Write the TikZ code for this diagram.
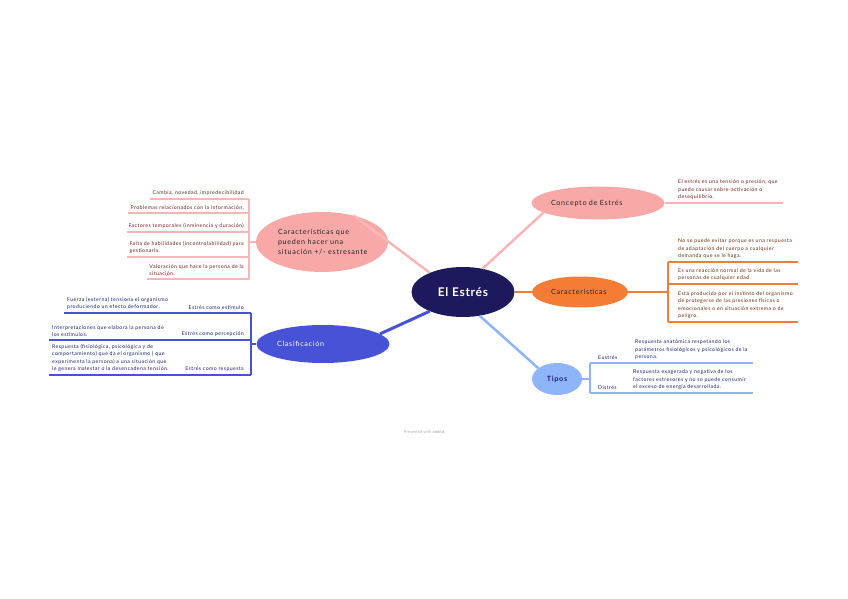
\documentclass[tikz,border=0pt]{standalone}
\usepackage{fontspec}
\setmainfont{Lato}
\usetikzlibrary{shapes.geometric}
\definecolor{knavy}{RGB}{28,26,92}
\definecolor{kpinkfill}{RGB}{249,168,168}
\definecolor{kpinkline}{RGB}{250,182,182}
\definecolor{korangefill}{RGB}{245,124,52}
\definecolor{kbluefill}{RGB}{72,82,214}
\definecolor{klightfill}{RGB}{142,180,250}
\definecolor{kpinktext}{RGB}{110,32,32}
\definecolor{korangetext}{RGB}{105,45,15}
\definecolor{kbluetext}{RGB}{30,32,110}
\newcommand{\topicfont}{\fontsize{7.2}{10}\selectfont\addfontfeature{LetterSpace=10}}
\newcommand{\itemfont}{\fontsize{5.2}{7.6}\selectfont\addfontfeature{LetterSpace=8}}
\tikzset{
  topic/.style={ellipse, inner sep=0pt, align=left},
  kroot/.style={topic, fill=knavy, text=white, minimum width=103bp, minimum height=50bp, font=\fontsize{12}{14}\selectfont\bfseries\addfontfeature{LetterSpace=6}},
  kpink/.style={topic, fill=kpinkfill, text=black!85, font=\topicfont},
  korange/.style={topic, fill=korangefill, text=black!85, font=\topicfont},
  kblue/.style={topic, fill=kbluefill, text=white, font=\topicfont},
  klight/.style={topic, fill=klightfill, text=kbluetext, font=\topicfont\bfseries},
  item/.style={inner xsep=0pt, inner ysep=3bp, align=left, font=\itemfont},
  pinkitem/.style={item, text=kpinktext}, orangeitem/.style={item, text=korangetext},
  blueitem/.style={item, text=kbluetext},
  pinkrail/.style={draw=kpinkline, line width=1.3bp},
  orangerail/.style={draw=korangefill, line width=1.3bp},
  bluerail/.style={draw=kbluefill, line width=1.3bp},
  lightrail/.style={draw=klightfill, line width=1.3bp},
}
\begin{document}
\begin{tikzpicture}[x=1bp, y=-1bp]
  \useasboundingbox (0,0) rectangle (848,599);
  % main topics
  \node[kroot] (estres) at (463,292) {El Estrés};
  \node[kpink, minimum width=132bp, minimum height=60bp, text width=88bp] (csit) at (322,242) {Características que\\pueden hacer una\\situación +/- estresante};
  \node[kblue, minimum width=133bp, minimum height=38bp, text width=92bp] (cclas) at (323,344) {Clasificación};
  \node[kpink, minimum width=130bp, minimum height=33bp, text width=94bp] (cconc) at (598,203) {Concepto de Estrés};
  \node[korange, minimum width=96bp, minimum height=31bp, text width=58bp] (ccar) at (580,292) {Características};
  \node[klight, minimum width=50bp, minimum height=32bp] (ctipos) at (557,379) {Tipos};
  % branches
  \draw[pinkrail, line width=2.5bp] (estres.150) -- (csit.40);
  \draw[pinkrail, line width=2.5bp] (estres.50) -- (cconc.190);
  \draw[orangerail, line width=2.5bp] (estres.east) -- (ccar.west);
  \draw[lightrail, line width=2.5bp] (estres.-55) -- (ctipos.150);
  \draw[bluerail, line width=3bp] (estres.-150) -- (cclas.10);
  % left: caracteristicas de la situacion
  \coordinate (railP) at (249,199);
  \node[pinkitem, anchor=south east] (p1) at (244,199) {Cambia, novedad, impredecibilidad};
  \node[pinkitem, anchor=south east] (p2) at (244,213) {Problemas relacionados con la información.};
  \node[pinkitem, anchor=south east] (p3) at (244,232) {Factores temporales (inminencia y duración)};
  \node[pinkitem, anchor=south east] (p4) at (244,257) {Falta de habilidades (incontrolabilidad) para\\gestionarla.};
  \node[pinkitem, anchor=south east] (p5) at (244,279) {Valoración que hace la persona de la\\situación.};
  \foreach \n in {p1,p2,p3,p4,p5}
    \draw[pinkrail] ([xshift=-2bp]\n.south west) -- (\n.south west -| railP);
  \draw[pinkrail] (p1.south -| railP) -- (p5.south -| railP);
  \draw[pinkrail] (csit.west -| railP) -- (csit.west);
  % left: clasificacion
  \coordinate (railB) at (251,313);
  \node[blueitem, anchor=south west] (b1) at (67,313) {Fuerza (externa) tensiona el organismo\\produciendo un efecto deformador.};
  \node[blueitem, anchor=south east] (l1) at (244,313) {Estrés como estímulo};
  \node[blueitem, anchor=south west] (b2) at (52,340) {Interpretaciones que elabora la persona de\\los estímulos.};
  \node[blueitem, anchor=south east] (l2) at (244,340) {Estrés como percepción};
  \node[blueitem, anchor=south west] (b3) at (52,375) {Respuesta (fisiológica, psicológica y de\\comportamiento) que da el organismo ( que\\experimenta la persona) a una situación que\\le genera malestar o la desencadena tensión.};
  \node[blueitem, anchor=south east] (l3) at (244,375) {Estrés como respuesta};
  \foreach \n in {b1,b2,b3}
    \draw[bluerail] ([xshift=-3bp]\n.south west) -- (\n.south west -| railB);
  \draw[bluerail] (b1.south -| railB) -- (b3.south -| railB);
  \draw[bluerail] (cclas.west -| railB) -- (cclas.west);
  % right: concepto
  \coordinate (endC) at (783,203);
  \node[pinkitem, anchor=south west] (c1) at (678,203) {El estrés es una tensión o presión, que\\puede causar sobre-activación o\\desequilibrio.};
  \draw[pinkrail] (cconc.east) -- (endC);
  % right: caracteristicas
  \coordinate (railO) at (668,262);
  \coordinate (endO) at (798,262);
  \node[orangeitem, anchor=south west] (o1) at (678,262) {No se puede evitar porque es una respuesta\\de adaptación del cuerpo a cualquier\\demanda que se le haga.};
  \node[orangeitem, anchor=south west] (o2) at (678,284) {Es una reacción normal de la vida de las\\personas de cualquier edad.};
  \node[orangeitem, anchor=south west] (o3) at (678,322) {Está producida por el instinto del organismo\\de protegerse de las presiones físicas o\\emocionales o en situación extrema o de\\peligro.};
  \foreach \n in {o1,o2,o3}
    \draw[orangerail] (\n.south -| railO) -- (\n.south -| endO);
  \draw[orangerail] (o1.south -| railO) -- (o3.south -| railO);
  \draw[orangerail] (ccar.east) -- (ccar.east -| railO);
  % right: tipos
  \coordinate (railT) at (590,363);
  \coordinate (endT) at (753,363);
  \node[blueitem, anchor=south west] (t1) at (598,363) {Eustrés};
  \node[blueitem, anchor=south west] (d1) at (635,363) {Respuesta anatómica respetando los\\parámetros fisiológicos y psicológicos de la\\persona.};
  \node[blueitem, anchor=south west] (t2) at (598,393) {Distrés};
  \node[blueitem, anchor=south west] (d2) at (633,393) {Respuesta exagerada y negativa de los\\factores estresores y no se puede consumir\\el exceso de energía desarrollada.};
  \foreach \n in {t1,t2}
    \draw[lightrail] (\n.south -| railT) -- (\n.south -| endT);
  \draw[lightrail] (t1.south -| railT) -- (t2.south -| railT);
  \draw[lightrail] (ctipos.east) -- (ctipos.east -| railT);
  % footer
  \node[text=black!30, font=\fontsize{4.2}{5}\selectfont] (foot) at (424,432) {Presented with \textbf{xmind}};
\end{tikzpicture}
\end{document}
